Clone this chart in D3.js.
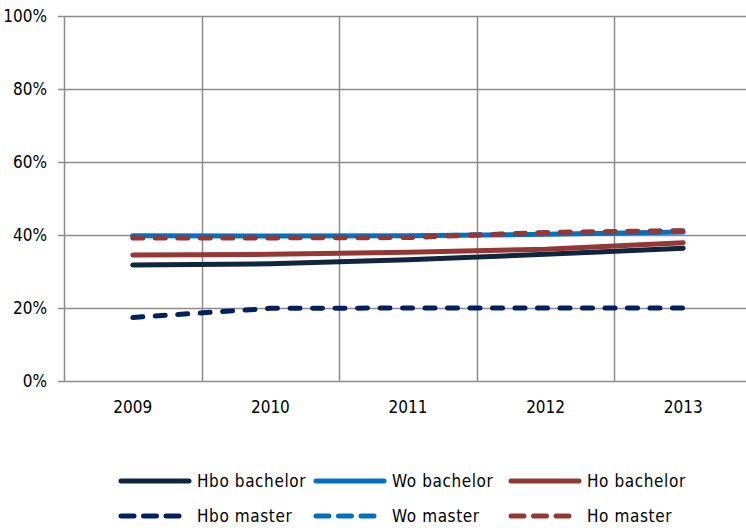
<!doctype html>
<html lang="nl-nl">
<head>
	<meta charset="UTF-8">
	<title>hbo / wo bachelor en master | d3</title>
	<style>
		body { margin: 0; background: #fff; }
		svg text {
			font-family: "DejaVu Sans Condensed", "DejaVu Sans", sans-serif;
			font-size: 17px;
			fill: #000;
		}
		svg .legend text {
			letter-spacing: 0.6px;
		}
	</style>
</head>
<body>
	<script src="https://cdn.jsdelivr.net/npm/d3@7/dist/d3.min.js"></script>
	<script>
		var years = ['2009', '2010', '2011', '2012', '2013'],
			yTicks = [0, 0.2, 0.4, 0.6, 0.8, 1];

		// values (share, 0-1)
		var hboBachelor = [0.318, 0.321, 0.332, 0.347, 0.364],
			woBachelor  = [0.398, 0.397, 0.398, 0.402, 0.408],
			hoBachelor  = [0.345, 0.347, 0.353, 0.361, 0.379],
			hboMaster   = [0.174, 0.199, 0.200, 0.200, 0.200],
			woMaster    = [0.395, 0.394, 0.396, 0.405, 0.411],
			hoMaster    = [0.392, 0.392, 0.393, 0.407, 0.412];

		var seriesNames = ['Hbo bachelor', 'Wo bachelor', 'Ho bachelor', 'Hbo master', 'Wo master', 'Ho master'],
			seriesColors = ['#10253f', '#0070c0', '#953735', '#002060', '#0070c0', '#953735'],
			seriesDashed = [false, false, false, true, true, true],
			seriesValues = [hboBachelor, woBachelor, hoBachelor, hboMaster, woMaster, hoMaster];

		var w = 746,
			h = 528,
			plotLeft = 64,
			plotTop = 16,
			plotBottom = 381,
			plotRight = 752;

		var svg = d3.select('body')
			.append('svg')
			.attr('width', w)
			.attr('height', h);

		var xScale = d3.scaleBand()
			.domain(years)
			.range([plotLeft, plotRight])
			.padding(0);

		var yScale = d3.scaleLinear()
			.domain([0, 1])
			.range([plotBottom, plotTop]);

		var gridColor = '#8c8c8c';

		/**
		* grid, axes and labels
		*/
		var drawAxes = function() {
			// horizontal gridlines (with small tick to the left)
			svg.selectAll('line.hgrid')
				.data(yTicks)
				.enter()
				.append('line')
				.attr('class', 'hgrid')
				.attr('x1', plotLeft - 6)
				.attr('x2', w)
				.attr('y1', function(d) { return Math.round(yScale(d)) + 0.5; })
				.attr('y2', function(d) { return Math.round(yScale(d)) + 0.5; })
				.attr('stroke', gridColor)
				.attr('stroke-width', 1.5);

			// vertical gridlines on the category boundaries
			svg.selectAll('line.vgrid')
				.data(years)
				.enter()
				.append('line')
				.attr('class', 'vgrid')
				.attr('x1', function(d) { return Math.round(xScale(d)) + 0.5; })
				.attr('x2', function(d) { return Math.round(xScale(d)) + 0.5; })
				.attr('y1', plotTop)
				.attr('y2', plotBottom)
				.attr('stroke', gridColor)
				.attr('stroke-width', 1.5);

			svg.selectAll('text.ylab')
				.data(yTicks)
				.enter()
				.append('text')
				.attr('class', 'ylab')
				.attr('x', 47)
				.attr('y', function(d) { return yScale(d); })
				.attr('dy', '0.35em')
				.attr('text-anchor', 'end')
				.text(function(d) { return Math.round(d * 100) + '%'; });

			svg.selectAll('text.xlab')
				.data(years)
				.enter()
				.append('text')
				.attr('class', 'xlab')
				.attr('x', function(d) { return xScale(d) + xScale.bandwidth() / 2; })
				.attr('y', 413)
				.attr('text-anchor', 'middle')
				.text(function(d) { return d; });
		};

		/**
		* the six lines
		*/
		var drawLines = function() {
			var line = d3.line()
				.x(function(d, i) { return xScale(years[i]) + xScale.bandwidth() / 2; })
				.y(function(d) { return yScale(d); });

			seriesValues.forEach(function(vals, k) {
				svg.append('path')
					.datum(vals)
					.attr('d', line)
					.attr('fill', 'none')
					.attr('stroke', seriesColors[k])
					.attr('stroke-width', 5)
					.attr('stroke-linecap', 'round')
					.attr('stroke-linejoin', 'round')
					.attr('stroke-dasharray', seriesDashed[k] ? '10,12.5' : null);
			});
		};

		/**
		* legend, two rows of three
		*/
		var drawLegend = function() {
			var colX = [119, 314, 509],
				rowY = [481, 516];

			var item = svg.selectAll('g.legend')
				.data(seriesNames)
				.enter()
				.append('g')
				.attr('class', 'legend')
				.attr('transform', function(d, i) {
					return 'translate(' + colX[i % 3] + ',' + rowY[Math.floor(i / 3)] + ')';
				});

			item.append('line')
				.attr('x1', 2)
				.attr('x2', function(d, i) { return seriesDashed[i] ? 60 : 70; })
				.attr('y1', 0)
				.attr('y2', 0)
				.attr('stroke', function(d, i) { return seriesColors[i]; })
				.attr('stroke-width', 5)
				.attr('stroke-linecap', 'round')
				.attr('stroke-dasharray', function(d, i) { return seriesDashed[i] ? '13,9.5' : null; });

			item.append('text')
				.attr('x', 78)
				.attr('y', 0)
				.attr('dy', '0.35em')
				.text(function(d) { return d; });
		};

		drawAxes();
		drawLines();
		drawLegend();
	</script>
</body>
</html>
